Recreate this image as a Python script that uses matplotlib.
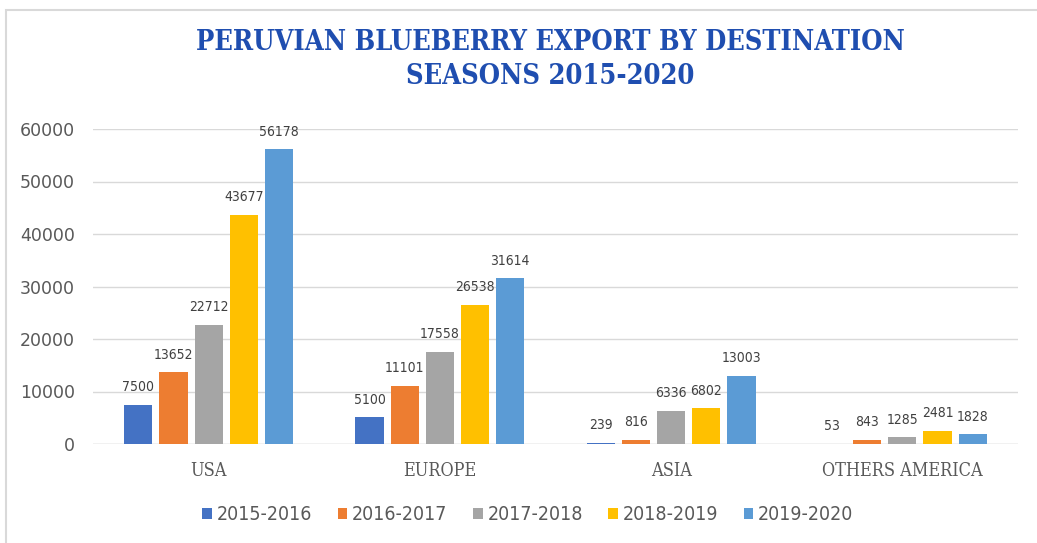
import matplotlib
matplotlib.use("Agg")
import matplotlib.pyplot as plt
from matplotlib.patches import Rectangle
import numpy as np

regions = ["USA", "EUROPE", "ASIA", "OTHERS AMERICA"]
seasons = ["2015-2016", "2016-2017", "2017-2018", "2018-2019", "2019-2020"]
s2015_2016 = [7500, 5100, 239, 53]
s2016_2017 = [13652, 11101, 816, 843]
s2017_2018 = [22712, 17558, 6336, 1285]
s2018_2019 = [43677, 26538, 6802, 2481]
s2019_2020 = [56178, 31614, 13003, 1828]
yticks = [0, 10000, 20000, 30000, 40000, 50000, 60000]

series = [s2015_2016, s2016_2017, s2017_2018, s2018_2019, s2019_2020]
colors = ["#4472C4", "#ED7D31", "#A5A5A5", "#FFC000", "#5B9BD5"]

W, H = 1037, 543
fig = plt.figure(figsize=(W / 100, H / 100), dpi=100)
fig.patch.set_facecolor("white")

# outer chart frame
fig.add_artist(Rectangle((6 / W, -0.05), 1.2, 1 - 10 / H + 0.05,
                         transform=fig.transFigure, fill=False,
                         edgecolor="#D9D9D9", linewidth=1.5))

ax = fig.add_axes([93 / W, 1 - 444 / H, (1018 - 93) / W, (444 - 129) / H])
x = np.arange(len(regions))
step = 0.152
width = 0.122
for i, (vals, col, lab) in enumerate(zip(series, colors, seasons)):
    pos = x + (i - 2) * step
    ax.bar(pos, vals, width=width, color=col, label=lab, zorder=3)
    for p, v in zip(pos, vals):
        ax.text(p, v + 2000, str(v), ha="center", va="bottom",
                fontsize=10, color="#404040", family="DejaVu Sans",
                fontstretch="condensed", zorder=4)

ax.set_xlim(-0.5, 3.5)
ax.set_ylim(0, 60000)
ax.set_yticks(yticks)
ax.set_yticklabels([str(t) for t in yticks], fontsize=12.5, color="#595959",
                   family="DejaVu Sans")
ax.set_xticks(x)
ax.set_xticklabels(regions, fontsize=13, color="#595959", family="DejaVu Serif",
                   fontstretch="condensed")
ax.tick_params(axis="both", length=0)
ax.tick_params(axis="y", pad=13)
ax.tick_params(axis="x", pad=13)
ax.grid(axis="y", color="#D9D9D9", linewidth=1, zorder=0)
for s in ax.spines.values():
    s.set_visible(False)
ax.axhline(0, color="#D9D9D9", linewidth=1, zorder=2)

title_kw = dict(ha="center", va="center", fontsize=19.5, fontweight="bold",
                color="#1F4EB0", family="DejaVu Serif", fontstretch="condensed")
fig.text(550 / W, 1 - 42 / H, "PERUVIAN BLUEBERRY EXPORT BY DESTINATION", **title_kw)
fig.text(550 / W, 1 - 77 / H, "SEASONS 2015-2020", **title_kw)

leg = fig.legend(loc="center", bbox_to_anchor=(528 / W, 1 - 515 / H), ncol=5,
                 frameon=False, handlelength=0.5, handleheight=0.5,
                 handletextpad=0.25, columnspacing=1.3,
                 prop={"family": "DejaVu Sans", "stretch": "condensed", "size": 14})
for t in leg.get_texts():
    t.set_color("#595959")

fig.savefig("out.png", dpi=100)
